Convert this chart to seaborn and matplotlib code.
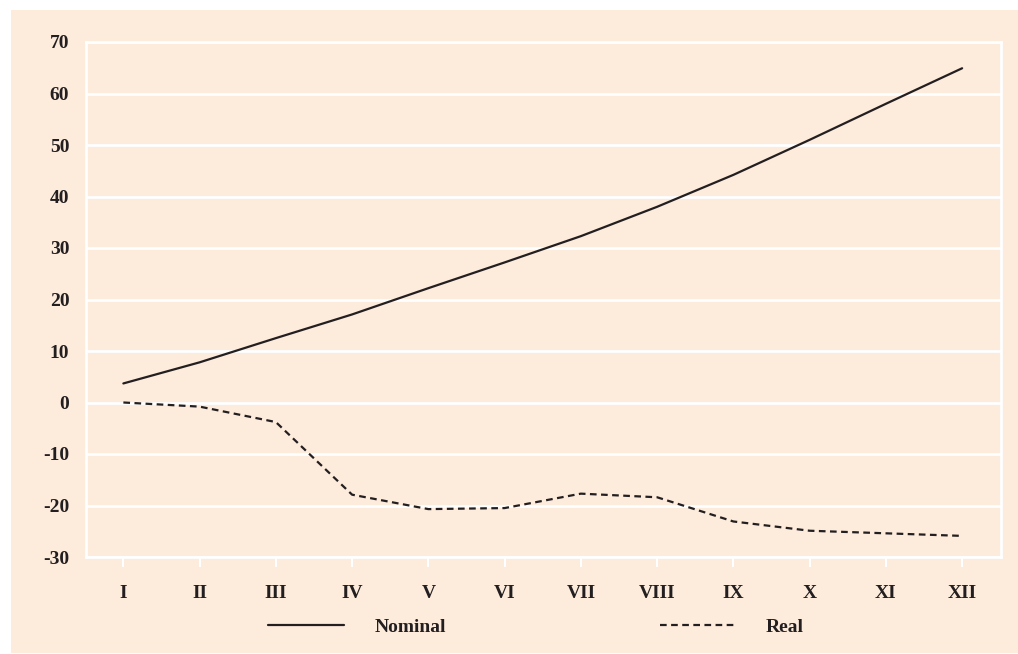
import numpy as np
import pandas as pd
import matplotlib
matplotlib.use("Agg")
import matplotlib.pyplot as plt
from matplotlib.patches import Rectangle
from matplotlib.lines import Line2D
import seaborn as sns

months = ["I", "II", "III", "IV", "V", "VI", "VII", "VIII", "IX", "X", "XI", "XII"]
nominal = [3.7, 7.8, 12.5, 17.1, 22.2, 27.2, 32.3, 38.0, 44.2, 51.0, 58.0, 64.9]
real = [0.0, -0.8, -3.8, -17.9, -20.7, -20.5, -17.7, -18.4, -23.1, -24.9, -25.4, -25.9]
yticks = [70, 60, 50, 40, 30, 20, 10, 0, -10, -20, -30]

peach = "#FDEBDC"
ink = "#231F20"

sns.set_theme(style="white")
plt.rcParams["font.family"] = ["Liberation Serif", "DejaVu Serif"]
plt.rcParams["font.weight"] = "bold"

fig = plt.figure(figsize=(10.18, 6.54), dpi=100, facecolor="white")
fig.patches.append(Rectangle((11 / 1018, 1 / 654), 1 - 11 / 1018, 643 / 654,
                             transform=fig.transFigure, facecolor=peach,
                             edgecolor="none", zorder=-10))

ax = fig.add_axes([86 / 1018, 1 - 557 / 654, (1001 - 86) / 1018, (557 - 42) / 654])
ax.set_facecolor(peach)

df = pd.DataFrame({
    "pos": list(range(len(months))) * 2,
    "value": nominal + real,
    "series": ["Nominal"] * len(months) + ["Real"] * len(months),
})

sns.lineplot(data=df, x="pos", y="value", style="series",
             dashes={"Nominal": "", "Real": (3, 2)}, color=ink,
             linewidth=1.6, ax=ax, legend=False, sort=False, zorder=3)
for ln in ax.lines:
    ln.set_solid_joinstyle("round")
    ln.set_dash_joinstyle("round")

ax.set_xlim(-0.49, 11.51)
ax.set_ylim(-30, 70)
ax.set_yticks(yticks)
ax.set_yticklabels([str(v) for v in yticks])
ax.set_xticks(range(len(months)))
ax.set_xticklabels(months)
ax.set_xlabel("")
ax.set_ylabel("")

ax.grid(axis="y", color="white", linewidth=2, zorder=1)
ax.grid(axis="x", visible=False)
for s in ax.spines.values():
    s.set_visible(True)
    s.set_color("white")
    s.set_linewidth(2)

ax.tick_params(axis="x", direction="out", length=7, width=1.5, color="white",
               pad=13, labelsize=14, labelcolor=ink, bottom=True)
ax.tick_params(axis="y", length=0, pad=12, labelsize=14, labelcolor=ink)
for lab in ax.get_xticklabels() + ax.get_yticklabels():
    lab.set_fontweight("bold")

handles = [Line2D([], [], color=ink, linewidth=1.6),
           Line2D([], [], color=ink, linewidth=1.6, dashes=(3, 2))]
leg = fig.legend(handles, ["Nominal", "Real"], loc="center",
                 bbox_to_anchor=(536 / 1018, 1 - 627 / 654), ncol=2,
                 frameon=False, handlelength=3.9, handletextpad=1.55,
                 columnspacing=11.0, prop={"family": "Liberation Serif",
                                           "weight": "bold", "size": 14})
for t in leg.get_texts():
    t.set_color(ink)

fig.savefig("out.png", dpi=100, facecolor="white")
